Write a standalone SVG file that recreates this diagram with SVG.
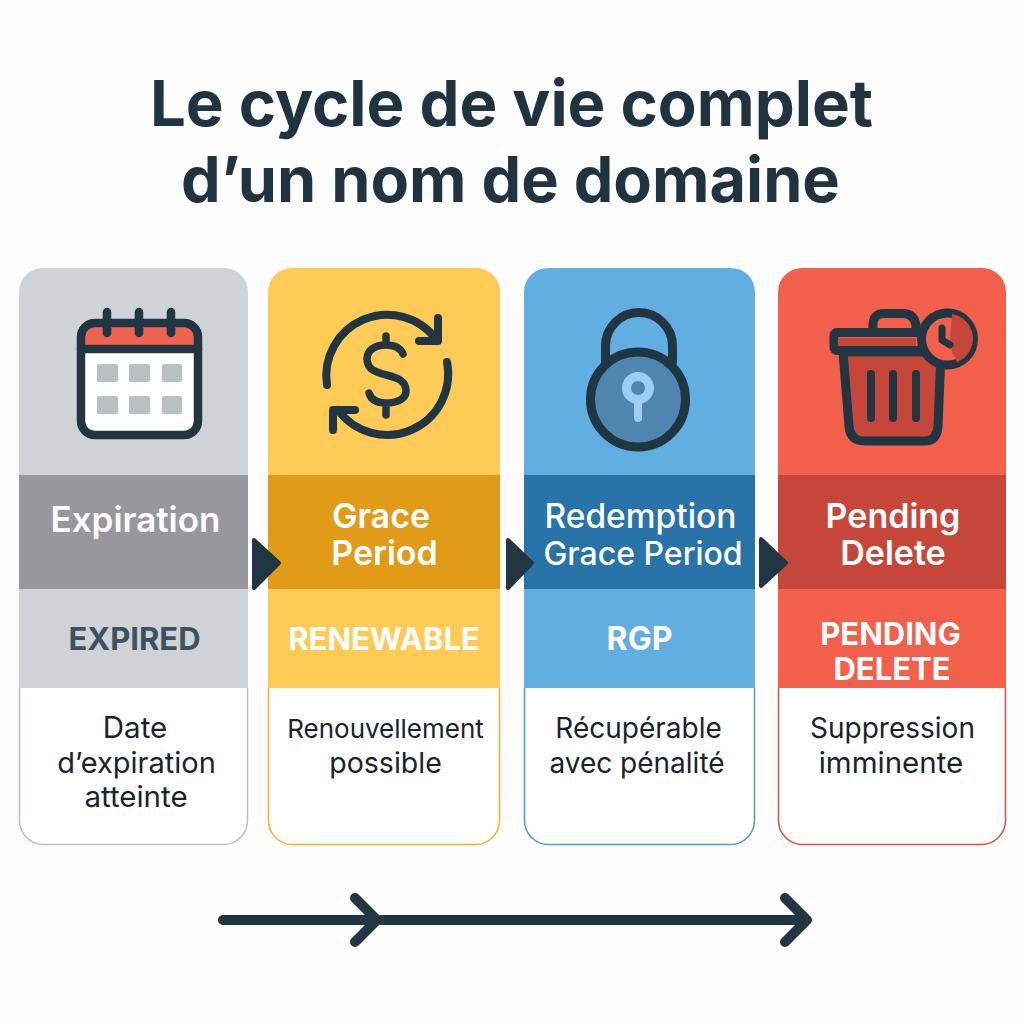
<svg xmlns="http://www.w3.org/2000/svg" width="1024" height="1024" viewBox="0 0 1024 1024">
<defs>
<style>
text{font-family:Inter,"Liberation Sans",sans-serif;text-anchor:middle}
.title{font-size:63.500px;font-weight:700;fill:#1f3340}
.head{font-size:34px;font-weight:600;fill:#fff}
.stat{font-size:31px;font-weight:700;fill:#fff}
.desc{font-size:28px;font-weight:400;fill:#17242d}
.ink{fill:none;stroke:#203642;stroke-linecap:round;stroke-linejoin:round}
.tri{fill:#203642;stroke:#203642;stroke-width:4;stroke-linejoin:round}
.edge{fill:none;stroke-width:1.500}
</style>
<clipPath id="c1"><rect x="19" y="268" width="229" height="577" rx="24"/></clipPath>
<clipPath id="c2"><rect x="268" y="268" width="232" height="577" rx="24"/></clipPath>
<clipPath id="c3"><rect x="524" y="268" width="231" height="577" rx="24"/></clipPath>
<clipPath id="c4"><rect x="778" y="268" width="228" height="577" rx="24"/></clipPath>
</defs>
<rect width="1024" height="1024" fill="#fdfdfd"/>
<text class="title" x="511.500" y="126">Le cycle de vie complet</text>
<text class="title" x="510.500" y="202" style="font-size:63px">d’un nom de domaine</text>

<g id="node-expiration">
<g clip-path="url(#c1)"><rect x="19" y="268" width="229" height="321" fill="#cfd3d6"/><rect x="19" y="475" width="229" height="114" fill="#98989c"/><rect x="19" y="589" width="229" height="99" fill="#cfd3d6"/><rect x="19" y="688" width="229" height="157" fill="#fff"/></g>
<path class="edge" stroke="#b7c0c8" d="M19.500 688V820.500a24 24 0 0 0 24 24H223.500a24 24 0 0 0 24-24V688"/>
<rect x="81" y="323" width="117" height="112" rx="14" fill="#fff"/>
<path d="M81 349V337a14 14 0 0 1 14-14H184a14 14 0 0 1 14 14V349Z" fill="#ef6450"/>
<rect x="81" y="323" width="117" height="112" rx="14" class="ink" stroke-width="8.500"/>
<path d="M81 349H198" class="ink" stroke-width="8.500"/>
<path d="M107 312V333M139 312V333M171 312V333" class="ink" stroke-width="8.500"/>
<g fill="#b9c0c4"><rect x="97" y="364" width="21" height="18" rx="2"/><rect x="129" y="364" width="21" height="18" rx="2"/><rect x="162" y="364" width="20" height="18" rx="2"/><rect x="97" y="396" width="21" height="18" rx="2"/><rect x="129" y="396" width="21" height="18" rx="2"/><rect x="162" y="396" width="20" height="18" rx="2"/></g>
<text class="head" x="135.500" y="532" style="font-size:35px">Expiration</text>
<text class="stat" x="134.500" y="650" style="fill:#3c5260">EXPIRED</text>
<text class="desc" x="135" y="738" style="font-size:29.500px">Date</text>
<text class="desc" x="136.500" y="773" style="font-size:29px">d’expiration</text>
<text class="desc" x="136" y="807" style="font-size:29.500px">atteinte</text>
</g>

<g id="node-grace">
<g clip-path="url(#c2)"><rect x="268" y="268" width="232" height="321" fill="#fecb56"/><rect x="268" y="475" width="232" height="114" fill="#e09c17"/><rect x="268" y="589" width="232" height="99" fill="#fecb56"/><rect x="268" y="688" width="232" height="157" fill="#fff"/></g>
<path class="edge" stroke="#eab43a" d="M268.500 688V820.500a24 24 0 0 0 24 24H475.500a24 24 0 0 0 24-24V688"/>
<path d="M327 385A61 61 0 0 1 436 339M447 362A61 61 0 0 1 338 410" class="ink" stroke-width="8"/>
<path d="M438 318V341H419M333 430V410H355" class="ink" stroke-width="8"/>
<path d="M403 354C400 347 394 345 386 345C375 345 367 350 367 359C367 381 406 369 406 391C406 399 397 403 386 403C377 403 371 400 369 393M386 336V345M386 403V415" class="ink" stroke-width="7.500"/>
<text class="head" x="381" y="528">Grace</text>
<text class="head" x="384.500" y="565">Period</text>
<text class="stat" x="384" y="650">RENEWABLE</text>
<text class="desc" x="385.500" y="738" style="font-size:26px">Renouvellement</text>
<text class="desc" x="385.500" y="773" style="font-size:28.500px">possible</text>
</g>

<g id="node-redemption">
<g clip-path="url(#c3)"><rect x="524" y="268" width="231" height="321" fill="#61aee0"/><rect x="524" y="475" width="231" height="114" fill="#2874a8"/><rect x="524" y="589" width="231" height="99" fill="#61aee0"/><rect x="524" y="688" width="231" height="157" fill="#fff"/></g>
<path class="edge" stroke="#4f9bd0" d="M524.500 688V820.500a24 24 0 0 0 24 24H730.500a24 24 0 0 0 24-24V688"/>
<path d="M605.500 362V346A33.500 33.500 0 0 1 672.500 346V362" class="ink" stroke-width="9"/>
<circle cx="638" cy="399.500" r="47.500" fill="#4f86b0" stroke="#203642" stroke-width="9"/>
<circle cx="638" cy="388" r="11.500" fill="#4f86b0" stroke="#9ccdf4" stroke-width="9"/>
<path d="M638 403V418" fill="none" stroke="#9ccdf4" stroke-width="8" stroke-linecap="round"/>
<text class="head" x="640.500" y="528" style="font-size:33.500px;font-weight:500">Redemption</text>
<text class="head" x="643" y="565" style="font-size:32px;font-weight:500">Grace Period</text>
<text class="stat" x="639.500" y="650" style="font-size:32px">RGP</text>
<text class="desc" x="638.500" y="738">Récupérable</text>
<text class="desc" x="637" y="773">avec pénalité</text>
</g>

<g id="node-pending">
<g clip-path="url(#c4)"><rect x="778" y="268" width="228" height="321" fill="#f2604c"/><rect x="778" y="475" width="228" height="114" fill="#c6473a"/><rect x="778" y="589" width="228" height="99" fill="#f2604c"/><rect x="778" y="688" width="228" height="157" fill="#fff"/></g>
<path class="edge" stroke="#d9503f" d="M778.500 688V820.500a24 24 0 0 0 24 24H981.500a24 24 0 0 0 24-24V688"/>
<path d="M843 352L849 426Q850 441 865 441H925Q937 441 938 426L941 352Z" fill="#c6473a" stroke="#203642" stroke-width="9" stroke-linejoin="round"/>
<rect x="834" y="332.500" width="90" height="18" rx="3" fill="#f2604c" stroke="#203642" stroke-width="9"/>
<rect x="838" y="338" width="78" height="8" fill="#c6473a"/>
<path d="M873 331V325Q873 313.500 884 313.500H903Q914 313.500 916 325V331" class="ink" stroke-width="9"/>
<path d="M871 374V418M893 374V418M916 374V418" class="ink" stroke-width="8"/>
<circle cx="947.500" cy="339" r="26" fill="#f2604c" stroke="#203642" stroke-width="9"/>
<path d="M952 314A25 25 0 0 1 957 362L952 352L950 340Z" fill="#c6473a"/>
<path d="M942 328V340L950 345" class="ink" stroke-width="7"/>
<text class="head" x="893" y="528">Pending</text>
<text class="head" x="893" y="565">Delete</text>
<text class="stat" x="890.500" y="645">PENDING</text>
<text class="stat" x="892" y="680">DELETE</text>
<text class="desc" x="892.500" y="738">Suppression</text>
<text class="desc" x="891" y="773" style="font-size:29.500px">imminente</text>
</g>

<g id="connectors">
<path class="tri" d="M254 540L279 563L254 588Z"/>
<path class="tri" d="M508 540L532 563L508 588Z"/>
<path class="tri" d="M761 539L786 563L761 586Z"/>
<path d="M223 920H806M355 898L377 920L355 942M785 898L807 920L785 942" class="ink" stroke-width="10"/>
</g>
</svg>
